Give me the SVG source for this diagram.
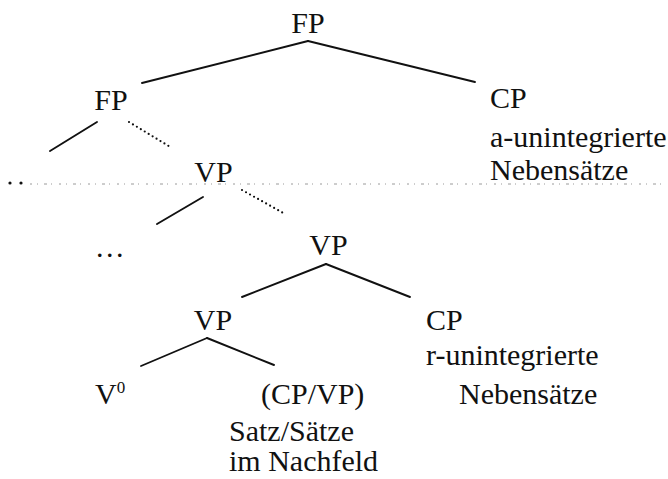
<svg xmlns="http://www.w3.org/2000/svg" width="668" height="479" viewBox="0 0 668 479">
  <style>
    text { font-family: "Liberation Serif", "Times New Roman", serif; font-size: 30px; fill: #111; }
    .mid { text-anchor: middle; }
    .sup { font-size: 17px; }
    .edge { stroke: #111; stroke-width: 1.9; fill: none; stroke-linecap: round; }
    .dots { stroke: #111; stroke-width: 2.2; fill: none; stroke-linecap: round; stroke-dasharray: 0 4.6; }
    .rule { stroke: #9a9a9a; stroke-width: 1; fill: none; stroke-dasharray: 2 5 1 6 3 4 1 7; }
  </style>

  <!-- faint dotted rule across the page -->
  <line class="rule" x1="30" y1="184" x2="668" y2="184"/>
  <circle cx="10" cy="183" r="1.6" fill="#111"/>
  <circle cx="21" cy="183" r="1.6" fill="#111"/>

  <g id="connectors">
    <line class="edge" x1="308" y1="41" x2="142" y2="83"/>
    <line class="edge" x1="308" y1="41" x2="475" y2="82"/>
    <line class="edge" x1="97" y1="122" x2="50" y2="151"/>
    <line class="dots" x1="129" y1="122" x2="172" y2="148"/>
    <line class="edge" x1="203" y1="197" x2="157" y2="224"/>
    <line class="dots" x1="242" y1="190" x2="285" y2="214"/>
    <line class="edge" x1="326" y1="264" x2="242" y2="297"/>
    <line class="edge" x1="326" y1="264" x2="410" y2="297"/>
    <line class="edge" x1="207" y1="338" x2="141" y2="366"/>
    <line class="edge" x1="207" y1="338" x2="274" y2="365"/>
  </g>

  <g id="fp-root"><text class="mid" x="308" y="33">FP</text></g>
  <g id="fp"><text class="mid" x="111" y="110">FP</text></g>
  <g id="cp-a">
    <text x="490" y="108">CP</text>
    <text x="490" y="147">a-unintegrierte</text>
    <text x="490" y="180">Nebensätze</text>
  </g>
  <g id="vp-1"><text class="mid" x="213.5" y="182">VP</text></g>
  <g id="ellipsis"><text x="96" y="257" letter-spacing="2.5">...</text></g>
  <g id="vp-2"><text class="mid" x="328.5" y="255">VP</text></g>
  <g id="vp-3"><text class="mid" x="213" y="330">VP</text></g>
  <g id="cp-r">
    <text x="426" y="330">CP</text>
    <text x="426" y="365">r-unintegrierte</text>
    <text x="459" y="404">Nebensätze</text>
  </g>
  <g id="v0"><text x="95" y="404">V<tspan class="sup" dy="-11">0</tspan></text></g>
  <g id="cp-vp">
    <text x="261" y="404">(CP/VP)</text>
    <text x="229" y="441">Satz/Sätze</text>
    <text x="229" y="471">im Nachfeld</text>
  </g>
</svg>
